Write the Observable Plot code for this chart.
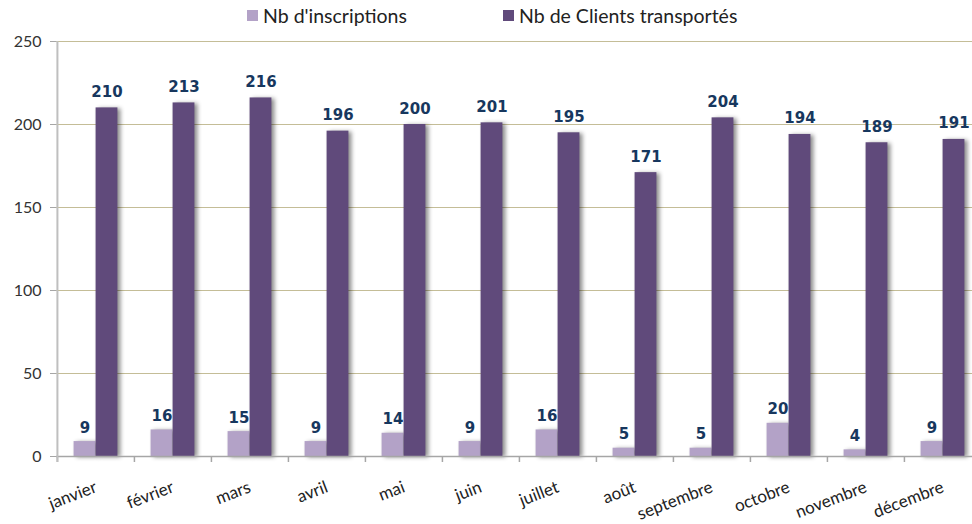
<!DOCTYPE html>
<html>
<head>
<meta charset="utf-8">
<script src="https://cdn.jsdelivr.net/npm/d3@7"></script>
<script src="https://cdn.jsdelivr.net/npm/@observablehq/plot@0.6"></script>
<style>
  body { margin: 0; background: #fff; font-family: Lato, sans-serif; }
  #legend { position: relative; height: 32px; width: 972px; font-size: 19.5px; color: #222; }
  .item { position: absolute; top: 4px; display: flex; align-items: center; }
  .sw { width: 11px; height: 11px; margin-right: 5px; }
  #chart svg g[aria-label="bar"] rect { filter: drop-shadow(3px 1px 2px rgba(0,0,0,0.45)); }
</style>
</head>
<body>
<div id="legend"></div>
<div id="chart"></div>
<script>
const months = ["janvier","février","mars","avril","mai","juin","juillet","août","septembre","octobre","novembre","décembre"];
const inscriptions = [9,16,15,9,14,9,16,5,5,20,4,9];
const clients = [210,213,216,196,200,201,195,171,204,194,189,191];
const seriesNames = ["Nb d'inscriptions","Nb de Clients transportés"];
const colors = ["#b3a2c7","#604a7b"];
const yTicks = [0,50,100,150,200,250];

const legend = document.getElementById("legend");
[247, 503].forEach((left, i) => {
  const it = document.createElement("div");
  it.className = "item";
  it.style.left = left + "px";
  it.innerHTML = `<span class="sw" style="background:${colors[i]}"></span><span>${seriesNames[i]}</span>`;
  legend.appendChild(it);
});

const dataA = months.map((m, i) => ({month: m, value: inscriptions[i]}));
const dataB = months.map((m, i) => ({month: m, value: clients[i]}));

const W = 972, ML = 56, MR = -10;
const step = (W - ML - MR) / months.length;
const half = step / 2;
const bw = 22;

const plot = Plot.plot({
  width: W,
  height: 492,
  marginTop: 9,
  marginBottom: 68,
  marginLeft: ML,
  marginRight: MR,
  style: {fontFamily: "Lato, sans-serif", fontSize: "16px", color: "#333", overflow: "visible"},
  x: {type: "band", domain: months, padding: 0, label: null},
  y: {domain: [0, 250], label: null},
  marks: [
    Plot.gridY(yTicks.filter(d => d > 0), {stroke: "#c4bd97", strokeOpacity: 1}),
    Plot.barY(dataA, {x: "month", y: "value", fill: colors[0], insetLeft: half - bw, insetRight: half}),
    Plot.barY(dataB, {x: "month", y: "value", fill: colors[1], insetLeft: half, insetRight: half - bw}),
    Plot.ruleY([0], {stroke: "#a6a6a6", strokeWidth: 1.5}),
    Plot.ruleX(months, {x: d => d, dx: -half, y1: 0, y2: 0, insetBottom: -6, stroke: "#a6a6a6", strokeWidth: 1.5}),
    Plot.ruleX([months[0]], {x: d => d, dx: -half, y1: 250, y2: 0, insetBottom: -6, stroke: "#bfbfbf", strokeWidth: 2}),
    Plot.axisY({ticks: yTicks, tickSize: 6, tickPadding: 9, stroke: "#a6a6a6", fontSize: 16, fill: "#333", label: null}),
    Plot.axisX({tickSize: 0, tickRotate: -21, tickPadding: 30, fontSize: 17, fill: "#222", label: null}),
    Plot.text(dataA, {x: "month", y: "value", text: d => String(d.value), dx: -11, dy: -9, lineAnchor: "bottom", fontFamily: "DejaVu Sans", fontWeight: "bold", fontSize: 15, fill: "#17375e"}),
    Plot.text(dataB, {x: "month", y: "value", text: d => String(d.value), dx: 11, dy: -11, lineAnchor: "bottom", fontFamily: "DejaVu Sans", fontWeight: "bold", fontSize: 15, fill: "#17375e"})
  ]
});
document.getElementById("chart").appendChild(plot);
</script>
</body>
</html>
